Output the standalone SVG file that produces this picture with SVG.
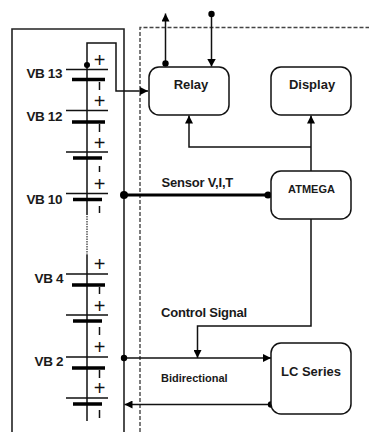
<svg xmlns="http://www.w3.org/2000/svg" width="369" height="432" viewBox="0 0 369 432">
<defs>
<marker id="arr" markerUnits="userSpaceOnUse" markerWidth="9" markerHeight="8" refX="8" refY="4" orient="auto"><path d="M0 0L8 4L0 8Z" fill="#000"/></marker>
<marker id="arrBig" markerUnits="userSpaceOnUse" markerWidth="9" markerHeight="9" refX="8" refY="4.5" orient="auto"><path d="M0 0L8 4.5L0 9Z" fill="#000"/></marker>
</defs>
<style>
text{font-family:"Liberation Sans","Open Sans",sans-serif;font-weight:bold;fill:#1a1a1a}
.box{fill:#fff;stroke:#111;stroke-width:1.5}
.w{fill:none;stroke:#111;stroke-width:1.5}
.long{stroke:#111;stroke-width:1.5}
.short{stroke:#000;stroke-width:3.5}
.sign{font-size:20px;font-weight:normal;text-anchor:middle;fill:#111}
.vb{font-size:13.500px;text-anchor:end;letter-spacing:-.4px}
.t{font-size:13px;letter-spacing:-.2px}
.n{text-anchor:middle}
</style>
<rect width="369" height="432" fill="#fff"/>
<g id="pack-frame"><path d="M12 432V29H124V432" fill="none" stroke="#222" stroke-width="1.6"/></g>
<g id="controller-frame"><path d="M140 432V27.500H369" fill="none" stroke="#444" stroke-width="1.4" stroke-dasharray="4 2"/></g>
<g id="battery-stack">
<path class="w" d="M87 65V110M87 110V152M87 152V193.500M87 193.500V215"/>
<path d="M87 216V255" fill="none" stroke="#555" stroke-width="1.5" stroke-dasharray="1.500 1"/>
<path class="w" d="M87 255V274M87 274V315M87 315V357M87 357V398M87 398V421"/>
<path class="long" d="M66 69.500H108M66 110.500H108M66 152H108M66 193.500H108M66 274H108M66 315H108M66 357H108M66 398H108"/>
<path class="short" d="M72 79.500H105M72 122H105M73 158H102M73 199.500H102M72 285H105M73 321H102M72 368H105M73 404H102"/>
<text class="sign" x="99.500" y="67">+</text><text class="sign" x="99.500" y="108">+</text><text class="sign" x="99.500" y="150">+</text><text class="sign" x="99.500" y="191">+</text><text class="sign" x="99.500" y="271">+</text><text class="sign" x="99.500" y="313">+</text><text class="sign" x="99.500" y="354">+</text><text class="sign" x="99.500" y="395">+</text>
<path class="w" d="M99.500 82V90M99.500 124V132M99.500 166V172M99.500 206V213M99.500 287V294M99.500 327V335M99.500 370V378M99.500 410V418"/>
<text class="vb" x="62" y="78">VB 13</text><text class="vb" x="62" y="121">VB 12</text><text class="vb" x="62" y="204">VB 10</text><text class="vb" x="63" y="283">VB 4</text><text class="vb" x="63" y="366">VB 2</text>
</g>
<g id="connectors">
<path class="w" d="M87 65V43H116V91H148" marker-end="url(#arr)"/>
<circle cx="87" cy="65" r="3"/>
<path class="w" d="M165.500 63V13.500" marker-end="url(#arr)"/><circle cx="165.500" cy="63.500" r="3.200"/>
<path class="w" d="M211.500 14V66.500" marker-end="url(#arrBig)"/><circle cx="211.500" cy="14" r="3.200"/>
<path class="w" d="M311 171V115.500" marker-end="url(#arr)"/>
<path class="w" d="M311 147H189V115.500" marker-end="url(#arr)"/>
<path d="M124 195H271" fill="none" stroke="#000" stroke-width="3"/><circle cx="124" cy="195" r="4"/><circle cx="268" cy="195" r="3.600"/>
<path class="w" d="M311 219V326H197.500V358" marker-end="url(#arr)"/>
<path class="w" d="M124 358H271" marker-end="url(#arr)"/><circle cx="124" cy="358" r="3.200"/>
<path class="w" d="M271 404.500H124.500" marker-end="url(#arr)"/><circle cx="271" cy="404.500" r="3.200"/>
</g>
<g id="relay"><rect class="box" x="149" y="67" width="80" height="48" rx="10"/><text class="n" x="191" y="89" font-size="13">Relay</text></g>
<g id="display"><rect class="box" x="271" y="67" width="80" height="48" rx="10"/><text class="n" x="312" y="89" font-size="13">Display</text></g>
<g id="atmega"><rect class="box" x="271" y="171" width="80" height="48" rx="10"/><text class="n" x="311.500" y="193" font-size="11">ATMEGA</text></g>
<g id="lc-series"><rect class="box" x="271" y="343" width="80" height="71" rx="10"/><text class="n" x="311" y="376" font-size="13">LC Series</text></g>
<g id="labels">
<text class="t" x="161.500" y="187">Sensor V,I,T</text>
<text class="t" x="161" y="317">Control Signal</text>
<text x="161" y="382" font-size="11">Bidirectional</text>
</g>
</svg>
